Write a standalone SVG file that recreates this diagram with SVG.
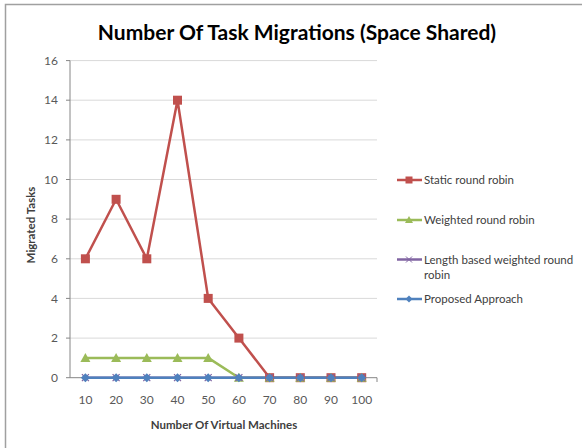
<svg xmlns="http://www.w3.org/2000/svg" width="582" height="448" viewBox="0 0 582 448">
<defs>
<style>
.t{font-family:Lato,"Liberation Sans",sans-serif;fill:#404040}
.tick{font-size:12px;fill:#595959}
.grid{stroke:#d9d9d9;stroke-width:1}
.axis{stroke:#868686;stroke-width:1}
.red{stroke:#c0504d;stroke-width:2.5;fill:none;stroke-linejoin:round}
.green{stroke:#9bbb59;stroke-width:2.5;fill:none;stroke-linejoin:round}
.purple{stroke:#8064a2;stroke-width:2.5;fill:none}
.blue{stroke:#4f81bd;stroke-width:2.5;fill:none}
.leg{font-size:11.5px;fill:#404040}
</style>
<rect id="sq" x="-4.5" y="-4.5" width="9" height="9" fill="#c0504d"/>
<path id="tri" d="M0,-5 L5,4 L-5,4 Z" fill="#9bbb59"/>
<path id="xm" d="M-3.5,-3.5 L3.5,3.5 M-3.5,3.5 L3.5,-3.5" stroke="#8064a2" stroke-width="1.2" fill="none"/>
<path id="dm" d="M0,-4.5 L4.5,0 L0,4.5 L-4.5,0 Z" fill="#4f81bd"/>
</defs>
<rect width="582" height="448" fill="#fff"/>
<path d="M5.5,448 V4.5 H582" stroke="#a0a0a0" stroke-width="1.5" fill="none"/>
<text class="t" x="297" y="40" font-size="21" font-weight="bold" text-anchor="middle" style="fill:#000">Number Of Task Migrations (Space Shared)</text>
<g id="grid">
<line class="grid" x1="70" y1="60.6" x2="377" y2="60.6"/>
<line class="grid" x1="70" y1="100.2" x2="377" y2="100.2"/>
<line class="grid" x1="70" y1="139.9" x2="377" y2="139.9"/>
<line class="grid" x1="70" y1="179.5" x2="377" y2="179.5"/>
<line class="grid" x1="70" y1="219.1" x2="377" y2="219.1"/>
<line class="grid" x1="70" y1="258.8" x2="377" y2="258.8"/>
<line class="grid" x1="70" y1="298.4" x2="377" y2="298.4"/>
<line class="grid" x1="70" y1="338.1" x2="377" y2="338.1"/>
</g>
<g id="axes">
<line class="axis" x1="70" y1="60.6" x2="70" y2="377.7"/>
<line class="axis" x1="66" y1="377.7" x2="377" y2="377.7"/>
<path class="axis" d="M66,60.6H70M66,100.2H70M66,139.9H70M66,179.5H70M66,219.1H70M66,258.8H70M66,298.4H70M66,338.1H70M377,377.7V382"/>
</g>
<g id="yticks" class="t tick" text-anchor="end">
<text x="58" y="64.8">16</text>
<text x="58" y="104.4">14</text>
<text x="58" y="144.1">12</text>
<text x="58" y="183.7">10</text>
<text x="58" y="223.3">8</text>
<text x="58" y="263">6</text>
<text x="58" y="302.6">4</text>
<text x="58" y="342.3">2</text>
<text x="58" y="381.9">0</text>
</g>
<g id="xticks" class="t tick" text-anchor="middle">
<text x="85.4" y="403.5">10</text>
<text x="116.1" y="403.5">20</text>
<text x="146.8" y="403.5">30</text>
<text x="177.5" y="403.5">40</text>
<text x="208.2" y="403.5">50</text>
<text x="238.9" y="403.5">60</text>
<text x="269.6" y="403.5">70</text>
<text x="300.3" y="403.5">80</text>
<text x="331" y="403.5">90</text>
<text x="361.7" y="403.5">100</text>
</g>
<text class="t" x="224" y="429" font-size="11.5" font-weight="bold" text-anchor="middle">Number Of Virtual Machines</text>
<text class="t" transform="translate(35,225) rotate(-90)" font-size="11.5" font-weight="bold" text-anchor="middle">Migrated Tasks</text>
<g id="connectors">
<polyline class="red" points="85.4,258.8 116.1,199.3 146.8,258.8 177.5,100.2 208.2,298.4 238.9,338.1 269.6,377.7 300.3,377.7 331,377.7 361.7,377.7"/>
<polyline class="green" points="85.4,357.9 116.1,357.9 146.8,357.9 177.5,357.9 208.2,357.9 238.9,377.7 269.6,377.7 300.3,377.7 331,377.7 361.7,377.7"/>
<polyline class="purple" points="85.4,377.7 361.7,377.7"/>
<polyline class="blue" points="85.4,377.7 361.7,377.7"/>
</g>
<g id="static">
<use href="#sq" x="85.4" y="258.8"/><use href="#sq" x="116.1" y="199.3"/><use href="#sq" x="146.8" y="258.8"/><use href="#sq" x="177.5" y="100.2"/><use href="#sq" x="208.2" y="298.4"/><use href="#sq" x="238.9" y="338.1"/><use href="#sq" x="269.6" y="377.7"/><use href="#sq" x="300.3" y="377.7"/><use href="#sq" x="331" y="377.7"/><use href="#sq" x="361.7" y="377.7"/>
</g>
<g id="weighted">
<use href="#tri" x="85.4" y="357.9"/><use href="#tri" x="116.1" y="357.9"/><use href="#tri" x="146.8" y="357.9"/><use href="#tri" x="177.5" y="357.9"/><use href="#tri" x="208.2" y="357.9"/><use href="#tri" x="238.9" y="377.7"/><use href="#tri" x="269.6" y="377.7"/><use href="#tri" x="300.3" y="377.7"/><use href="#tri" x="331" y="377.7"/><use href="#tri" x="361.7" y="377.7"/>
</g>
<g id="length">
<use href="#xm" x="85.4" y="377.7"/><use href="#xm" x="116.1" y="377.7"/><use href="#xm" x="146.8" y="377.7"/><use href="#xm" x="177.5" y="377.7"/><use href="#xm" x="208.2" y="377.7"/><use href="#xm" x="238.9" y="377.7"/><use href="#xm" x="269.6" y="377.7"/><use href="#xm" x="300.3" y="377.7"/><use href="#xm" x="331" y="377.7"/><use href="#xm" x="361.7" y="377.7"/>
</g>
<g id="proposed">
<use href="#dm" x="85.4" y="377.7"/><use href="#dm" x="116.1" y="377.7"/><use href="#dm" x="146.8" y="377.7"/><use href="#dm" x="177.5" y="377.7"/><use href="#dm" x="208.2" y="377.7"/><use href="#dm" x="238.9" y="377.7"/><use href="#dm" x="269.6" y="377.7"/><use href="#dm" x="300.3" y="377.7"/><use href="#dm" x="331" y="377.7"/><use href="#dm" x="361.7" y="377.7"/>
</g>
<g id="legend">
<line class="red" x1="397" y1="180" x2="422" y2="180"/><rect x="405.5" y="176.5" width="7" height="7" fill="#c0504d"/>
<text class="t leg" x="424" y="184">Static round robin</text>
<line class="green" x1="397" y1="220" x2="422" y2="220"/><path d="M409,216 L413,223 L405,223 Z" fill="#9bbb59"/>
<text class="t leg" x="424" y="224">Weighted round robin</text>
<line class="purple" x1="397" y1="259.5" x2="422" y2="259.5"/><path d="M406,256.5 L412,262.5 M406,262.5 L412,256.5" stroke="#8064a2" stroke-width="1" fill="none"/>
<text class="t leg" x="424" y="263.5">Length based weighted round</text>
<text class="t leg" x="424" y="279">robin</text>
<line class="blue" x1="397" y1="299" x2="422" y2="299"/><path d="M409,295.5 L412.5,299 L409,302.5 L405.5,299 Z" fill="#4f81bd"/>
<text class="t leg" x="424" y="303">Proposed Approach</text>
</g>
</svg>
